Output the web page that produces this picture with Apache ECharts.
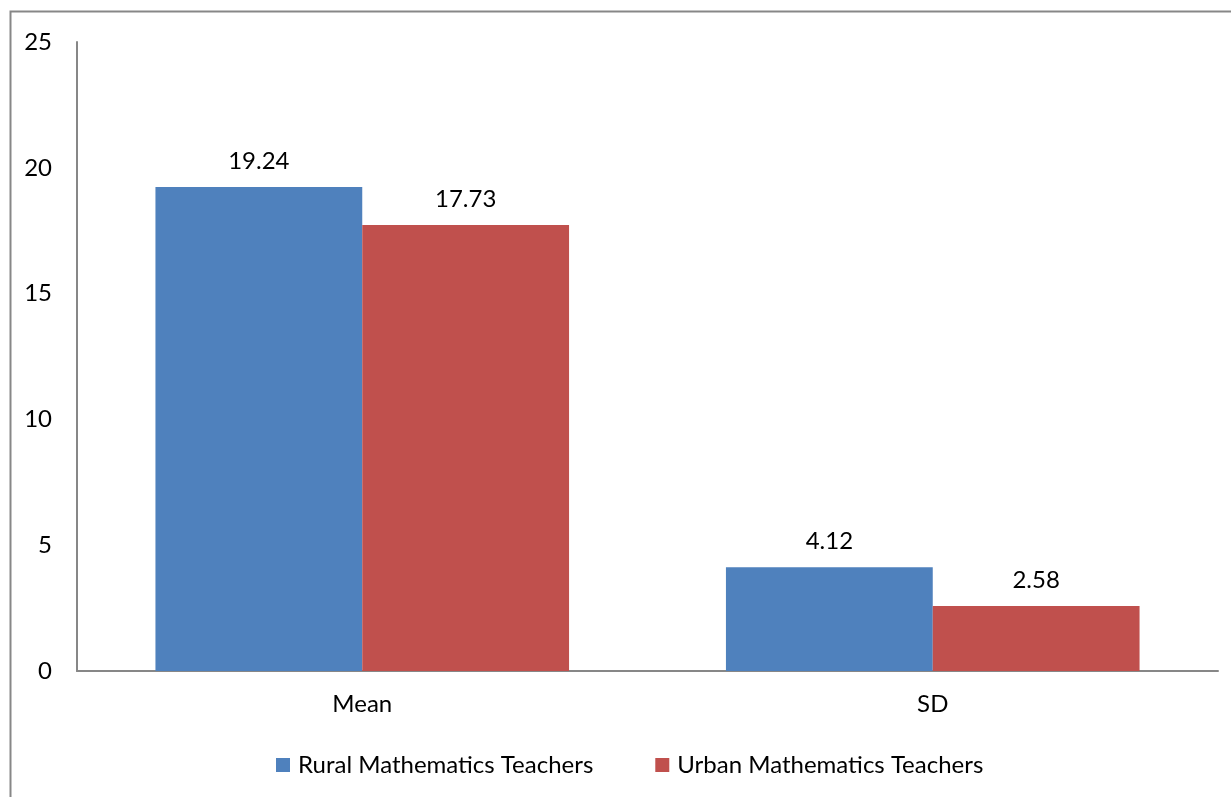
<!DOCTYPE html>
<html>
<head>
<meta charset="utf-8">
<script src="https://cdn.jsdelivr.net/npm/echarts@6/dist/echarts.min.js"></script>
<style>
  html, body { margin: 0; padding: 0; background: #fff; }
  #chart { width: 1231px; height: 797px; }
</style>
</head>
<body>
<div id="chart"></div>
<script>
const categories = ['Mean', 'SD']
const seriesNames = ['Rural Mathematics Teachers', 'Urban Mathematics Teachers']
const ruralValues = [19.24, 4.12]
const urbanValues = [17.73, 2.58]
const colors = ['#4f81bd', '#c0504d']

const chart = echarts.init(document.getElementById('chart'))
const font = 'Lato'
const fs = 24

const makeSeries = (name, data, color) => ({
    name,
    type: 'bar',
    data,
    barGap: '0%',
    barCategoryGap: '27.5%',
    itemStyle: { color },
    label: {
        show: true,
        position: 'top',
        distance: 14,
        fontFamily: font,
        fontSize: fs,
        color: '#000'
    },
    animation: false
})

chart.setOption({
    textStyle: { fontFamily: font },
    graphic: [{
        type: 'rect',
        shape: { x: 10.5, y: 11.5, width: 1260, height: 820 },
        style: { fill: 'none', stroke: '#878787', lineWidth: 2 },
        silent: true
    }],
    legend: {
        data: seriesNames,
        top: 748,
        left: 271,
        itemWidth: 14,
        itemHeight: 14,
        itemGap: 62,
        icon: 'rect',
        textStyle: { fontFamily: font, fontSize: fs, color: '#000', padding: [0, 0, 0, 3] }
    },
    grid: {
        top: 42,
        left: 77,
        right: 13,
        bottom: 126
    },
    xAxis: {
        type: 'category',
        data: categories,
        axisLine: { lineStyle: { color: '#878787', width: 2 } },
        axisTick: { show: false },
        axisLabel: { fontFamily: font, fontSize: fs, color: '#000', margin: 21 }
    },
    yAxis: {
        type: 'value',
        min: 0,
        max: 25,
        interval: 5,
        axisLine: { show: true, lineStyle: { color: '#878787', width: 2 } },
        axisTick: { show: false },
        splitLine: { show: false },
        axisLabel: { fontFamily: font, fontSize: fs, color: '#000', margin: 25 }
    },
    series: [
        makeSeries(seriesNames[0], ruralValues, colors[0]),
        makeSeries(seriesNames[1], urbanValues, colors[1])
    ]
})
</script>
</body>
</html>
